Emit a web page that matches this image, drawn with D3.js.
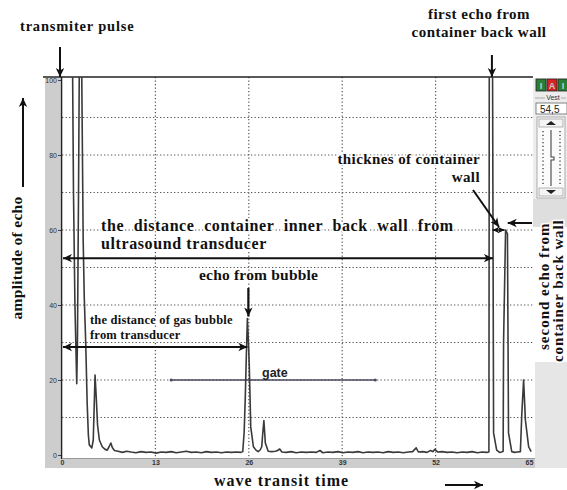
<!DOCTYPE html>
<html>
<head>
<meta charset="utf-8">
<script src="https://cdn.jsdelivr.net/npm/d3@7"></script>
<style>
  html, body { margin: 0; padding: 0; background: #fff; }
  svg { display: block; }
  .ann { font-family: "Liberation Serif", "Times New Roman", serif; font-weight: bold; fill: #111;
         paint-order: stroke; stroke: #fff; stroke-width: 3px; stroke-linejoin: round; }
  .tick-lbl { font-family: "Liberation Sans", Arial, sans-serif; font-size: 7px; fill: #333; }
</style>
</head>
<body>
<svg id="chart" width="567" height="490"></svg>
<script>
// A-scan trace: [transit time, echo amplitude %]
const echoTrace = [
  [1.48, 101], [1.6, 70], [1.8, 40], [2.05, 19], [2.15, 30], [2.3, 70], [2.4, 101],
  [2.75, 101], [2.95, 57], [3.1, 42], [3.3, 30], [3.5, 14], [3.67, 5.3], [3.8, 2.7],
  [4.15, 1.9], [4.35, 4], [4.48, 13], [4.6, 21.3], [4.75, 16], [4.95, 8], [5.2, 4],
  [5.6, 2.2], [6.0, 1.5], [6.3, 1.3], [6.55, 2.2], [6.8, 3.2], [7.0, 2], [7.3, 1.2],
  [7.8, 1.0], [8.4, 0.7], [9.0, 1.0], [9.6, 0.8], [10.3, 0.6], [11.0, 0.9], [11.7, 0.7],
  [12.4, 0.8], [13.1, 0.5], [13.8, 0.8], [14.5, 0.7], [15.2, 0.9], [15.9, 0.6],
  [16.6, 0.8], [17.3, 1.0], [18.0, 0.7], [18.7, 0.8], [19.4, 0.6], [20.1, 0.9],
  [20.8, 0.7], [21.5, 0.8], [22.2, 0.6], [22.9, 0.8], [23.6, 0.7], [24.3, 0.8],
  [24.9, 0.7], [25.16, 0.9], [25.35, 6], [25.5, 14.7], [25.65, 26], [25.8, 36.4],
  [25.95, 30], [26.07, 23.5], [26.27, 7.5], [26.64, 2.2], [27.0, 1.3], [27.3, 0.9],
  [27.6, 1.4], [27.8, 2.2], [27.95, 6], [28.1, 9.2], [28.3, 3.2], [28.7, 1.0],
  [29.2, 0.9], [29.7, 1.0], [30.0, 1.2], [30.3, 1.6], [30.6, 0.8], [31.2, 0.7],
  [31.9, 0.9], [32.6, 0.6], [33.3, 0.8], [34.0, 0.7], [34.7, 0.8], [35.4, 0.7],
  [35.9, 1.2], [36.3, 0.6], [37.0, 0.8], [37.7, 0.7], [38.4, 0.9], [39.1, 0.6],
  [39.8, 0.8], [40.5, 0.7], [41.2, 0.9], [41.9, 0.6], [42.6, 0.8], [43.3, 0.7],
  [44.0, 0.8], [44.7, 0.6], [45.4, 0.9], [46.1, 0.7], [46.8, 0.8], [47.5, 0.6],
  [48.2, 0.8], [48.8, 0.9], [49.3, 1.9], [49.6, 0.8], [50.2, 0.9], [50.8, 0.7],
  [51.3, 1.2], [51.6, 0.9], [51.9, 1.5], [52.3, 0.8], [52.9, 0.9], [53.6, 0.7],
  [54.3, 0.8], [55.0, 0.6], [55.7, 0.8], [56.4, 0.7], [57.1, 0.9], [57.8, 0.6],
  [58.5, 0.8], [59.1, 0.7], [59.42, 0.8], [59.47, 101], [59.93, 101], [60.07, 5.9],
  [60.5, 1.3], [60.9, 0.7], [61.2, 0.8], [61.4, 1.0], [61.46, 30], [61.74, 60],
  [62.0, 59], [62.15, 5.9], [62.6, 0.9], [63.0, 0.7], [63.4, 0.8], [63.8, 0.9],
  [64.0, 11], [64.25, 20], [64.5, 9.3], [64.95, 2.2], [65.3, 0.9]
];

const xTicks = [0, 13, 26, 39, 52, 65];
const yTicks = [0, 20, 40, 60, 80, 100];
const xGrid = [13, 26, 39, 52];
const yGrid = [10, 20, 30, 40, 50, 60, 70, 80, 90];
const gateSpan = [15.2, 43.6];
const gateLevel = 20;
const bubbleEcho = [25.8, 36.4];
const backWallEcho = [59.7, 101];
const secondEcho = [61.74, 60];
const panelReading = "54,5";

const svg = d3.select("#chart");
const x = d3.scaleLinear().domain([0, 65]).range([62, 529]);
const y = d3.scaleLinear().domain([0, 100]).range([455, 80]);
const plotL = 62, plotR = x(65.5), plotT = 77, plotB = 458;

// defs: clip for the trace
const defs = svg.append("defs");
defs.append("clipPath").attr("id", "plotClip").append("rect")
  .attr("x", plotL).attr("y", plotT).attr("width", plotR - plotL).attr("height", plotB - plotT);

function head(g, x2, y2, ang, size) {
  const s = size || 1;
  g.append("path")
    .attr("d", `M0,0 L${-9 * s},${-4.2 * s} L${-6.5 * s},0 L${-9 * s},${4.2 * s} Z`)
    .attr("transform", `translate(${x2},${y2}) rotate(${ang})`)
    .attr("fill", "#111");
}
function arrow(x1, y1, x2, y2, both, w, s) {
  const g = svg.append("g");
  g.append("line").attr("x1", x1).attr("y1", y1).attr("x2", x2).attr("y2", y2)
    .attr("stroke", "#111").attr("stroke-width", w || 2);
  const ang = Math.atan2(y2 - y1, x2 - x1) * 180 / Math.PI;
  head(g, x2, y2, ang, s);
  if (both) head(g, x1, y1, ang + 180, s);
}

// left amplitude strip and bottom time strip
svg.append("rect").attr("x", 45).attr("y", 78).attr("width", 15).attr("height", 390).attr("fill", "#cdcdcd");
svg.append("rect").attr("x", 45).attr("y", 459).attr("width", 490).attr("height", 9).attr("fill", "#cdcdcd");
// right-hand grey area below the panel
svg.append("rect").attr("x", 535).attr("y", 362).attr("width", 32).attr("height", 106).attr("fill", "#e6e6e6");

// dotted grid
svg.append("g").selectAll("line").data(yGrid).join("line")
  .attr("x1", plotL).attr("x2", plotR).attr("y1", d => y(d)).attr("y2", d => y(d))
  .attr("stroke", "#555").attr("stroke-width", 1.2).attr("stroke-dasharray", "1.3,2.2");
svg.append("g").selectAll("line").data(xGrid).join("line")
  .attr("y1", plotT).attr("y2", plotB).attr("x1", d => x(d)).attr("x2", d => x(d))
  .attr("stroke", "#555").attr("stroke-width", 1.2).attr("stroke-dasharray", "1.3,2.2");

// axes
const yAxis = d3.axisLeft(y).tickValues(yTicks).tickSize(3).tickPadding(1);
const gy = svg.append("g").attr("transform", `translate(${plotL - 1},0)`).call(yAxis);
gy.select(".domain").remove();
gy.selectAll("line").attr("stroke", "#444");
gy.selectAll("text").attr("class", "tick-lbl").attr("font-size", null).attr("font-family", null);

const xAxis = d3.axisBottom(x).tickValues(xTicks).tickSize(0).tickPadding(2);
const gx = svg.append("g").attr("transform", `translate(0,${plotB})`).call(xAxis);
gx.select(".domain").remove();
gx.selectAll("text").attr("class", "tick-lbl").attr("font-size", null).attr("font-family", null)
  .attr("font-weight", "bold");

// frame lines
svg.append("line").attr("x1", 43).attr("x2", 533).attr("y1", plotT).attr("y2", plotT)
  .attr("stroke", "#222").attr("stroke-width", 1.5);
svg.append("line").attr("x1", plotL - 0.5).attr("x2", plotL - 0.5).attr("y1", plotT).attr("y2", plotB + 1)
  .attr("stroke", "#222").attr("stroke-width", 1.6);
svg.append("line").attr("x1", plotL).attr("x2", 535).attr("y1", plotB + 0.5).attr("y2", plotB + 0.5)
  .attr("stroke", "#999").attr("stroke-width", 1);

// gate
svg.append("line").attr("x1", x(gateSpan[0])).attr("x2", x(gateSpan[1]))
  .attr("y1", y(gateLevel)).attr("y2", y(gateLevel))
  .attr("stroke", "#4a4a60").attr("stroke-width", 1.6);
svg.append("g").selectAll("circle").data(gateSpan).join("circle")
  .attr("cx", d => x(d)).attr("cy", y(gateLevel)).attr("r", 1.6).attr("fill", "#4a4a60");

// echo trace
const line = d3.line().x(d => x(d[0])).y(d => y(d[1]));
svg.append("path").datum(echoTrace).attr("clip-path", "url(#plotClip)")
  .attr("d", line).attr("fill", "none").attr("stroke", "#3a3a3a").attr("stroke-width", 1.6)
  .attr("stroke-linejoin", "round");

// right instrument panel
const panel = svg.append("g");
panel.append("rect").attr("x", 533).attr("y", 78).attr("width", 34).attr("height", 149).attr("fill", "#ededed");
const btns = [{x: 536, c: "#2a7f36", t: "I"}, {x: 547, c: "#d42424", t: "A"}, {x: 558, c: "#2a7f36", t: "I"}];
panel.selectAll("rect.btn").data(btns).join("rect").attr("class", "btn")
  .attr("x", d => d.x).attr("y", 79).attr("width", 10).attr("height", 12)
  .attr("fill", d => d.c).attr("stroke", "#222").attr("stroke-width", 0.8);
panel.selectAll("text.btn").data(btns).join("text").attr("class", "btn")
  .attr("x", d => d.x + 5).attr("y", 89).attr("text-anchor", "middle")
  .attr("font-family", "Liberation Sans, Arial, sans-serif").attr("font-size", 9).attr("font-weight", "bold")
  .attr("fill", "#ccc").text(d => d.t);
panel.append("line").attr("x1", 535).attr("x2", 566).attr("y1", 98).attr("y2", 98).attr("stroke", "#aaa");
panel.append("rect").attr("x", 545).attr("y", 94).attr("width", 16).attr("height", 7).attr("fill", "#ededed");
panel.append("text").attr("x", 553).attr("y", 100).attr("text-anchor", "middle")
  .attr("font-family", "Liberation Sans, Arial, sans-serif").attr("font-size", 7).attr("fill", "#334")
  .text("Vest");
panel.append("rect").attr("x", 536).attr("y", 103).attr("width", 31).attr("height", 11)
  .attr("fill", "#fff").attr("stroke", "#666").attr("stroke-width", 0.8);
panel.append("text").attr("x", 540).attr("y", 112.5)
  .attr("font-family", "Liberation Sans, Arial, sans-serif").attr("font-size", 10).attr("fill", "#222")
  .text(panelReading);
panel.append("rect").attr("x", 537).attr("y", 117).attr("width", 28).attr("height", 81)
  .attr("fill", "#fbfbfb").attr("stroke", "#999").attr("stroke-width", 0.8);
panel.append("rect").attr("x", 539).attr("y", 119).attr("width", 24).attr("height", 8)
  .attr("fill", "#f4f4f4").attr("stroke", "#888").attr("stroke-width", 0.6);
panel.append("rect").attr("x", 539).attr("y", 188).attr("width", 24).attr("height", 8)
  .attr("fill", "#f4f4f4").attr("stroke", "#888").attr("stroke-width", 0.6);
panel.append("path").attr("d", "M546,125 L551,121 L556,125 Z").attr("fill", "#222");
panel.append("path").attr("d", "M546,190 L551,194 L556,190 Z").attr("fill", "#222");
panel.append("path").attr("d", "M551,130 L551,157 L554,157 L554,160 L551,160 L551,186")
  .attr("fill", "none").attr("stroke", "#444").attr("stroke-width", 1.1);
[543, 560].forEach(cx => panel.append("line").attr("x1", cx).attr("x2", cx).attr("y1", 131).attr("y2", 185)
  .attr("stroke", "#555").attr("stroke-width", 1.5).attr("stroke-dasharray", "1.2,2.5"));
panel.append("rect").attr("x", 533).attr("y", 199).attr("width", 34).attr("height", 28).attr("fill", "#dedede");

// annotations
function ann(txt, px, py, size, anchor, rot) {
  const t = svg.append("text").attr("class", "ann").attr("font-size", size)
    .attr("text-anchor", anchor || "start").text(txt);
  if (rot) t.attr("transform", `translate(${px},${py}) rotate(${rot})`);
  else t.attr("x", px).attr("y", py);
  return t;
}

ann("transmiter pulse", 20, 31, 14.5).attr("letter-spacing", 0.8);
arrow(60, 47, 60, 77, false, 2);

ann("first echo from", 479, 19, 15, "middle").attr("letter-spacing", 0.5);
ann("container back wall", 479, 37, 15, "middle").attr("letter-spacing", 0.5);
arrow(x(backWallEcho[0]) + 1, 55, x(backWallEcho[0]) + 1, 77, false, 2);

ann("thicknes of container", 480, 164, 15, "end").attr("letter-spacing", 0.4);
ann("wall", 480, 182, 15, "end").attr("letter-spacing", 0.4);
arrow(473, 190, 499, 227, false, 2);
arrow(x(59.93), 230, x(61.6), 230, true, 1.5, 0.75);
arrow(532, 223, x(61.9) + 1, 223, false, 2);

ann("the distance container inner back wall from", 101, 231, 16)
  .attr("letter-spacing", 0.6).attr("word-spacing", 5);
ann("ultrasound transducer", 101, 249, 16).attr("letter-spacing", 0.6);
arrow(x(0) + 1, y(52.5), x(backWallEcho[0]) + 2, y(52.5), true, 2);

ann("echo from bubble", 199, 280, 15.5).attr("letter-spacing", 0.2);
arrow(x(bubbleEcho[0]) + 1, 288, x(bubbleEcho[0]) + 1, y(bubbleEcho[1]) - 2, false, 2.2);

ann("the distance of gas bubble", 90, 324, 12.5).attr("letter-spacing", 0.2);
ann("from transducer", 90, 339, 12.5).attr("letter-spacing", 0.2);
arrow(x(0) + 1, y(28.8), x(bubbleEcho[0]), y(28.8), true, 2);

svg.append("text").attr("x", 262).attr("y", 377)
  .attr("font-family", "Liberation Sans, Arial, sans-serif").attr("font-weight", "bold")
  .attr("font-size", 12.5).attr("fill", "#222").text("gate");

ann("amplitude of echo", 22, 258, 15.5, "middle", -90).attr("letter-spacing", 0.3);
arrow(23, 187, 23, 98, false, 2);

ann("second echo from", 549, 350, 15, "start", -90).attr("letter-spacing", 1);
ann("container back wall", 563, 362, 15, "start", -90).attr("letter-spacing", 0.9);

ann("wave transit time", 214, 486, 16).attr("letter-spacing", 1);
arrow(445, 485, 483, 485, false, 2);
</script>
</body>
</html>
